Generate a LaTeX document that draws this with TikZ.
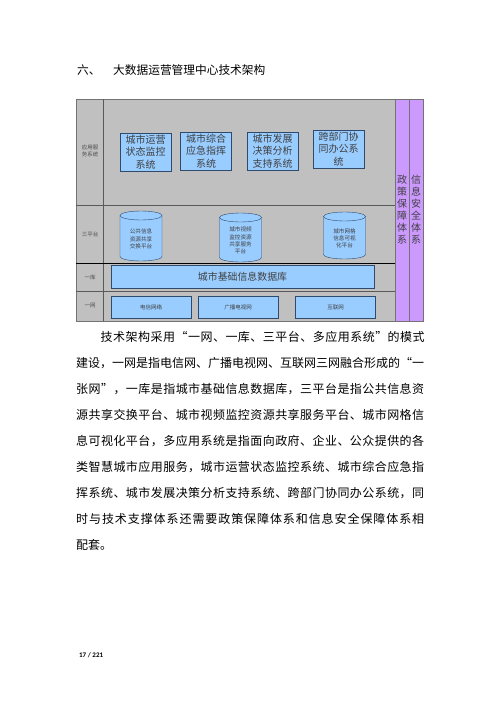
\documentclass[tikz,border=0pt]{standalone}
\usepackage{fontspec}
\usepackage{xcolor}
\newfontfamily\cjk{Noto Sans CJK SC}
\newfontfamily\pagefont{Carlito}
\definecolor{layergray}{HTML}{C0C0C0}
\definecolor{boxblue}{HTML}{99CCFF}
\definecolor{lilac}{HTML}{CC99FF}
\definecolor{boxedge}{HTML}{2F4A6A}
\def\jline#1{\expandafter\jlineB#1\relax}
\def\jlineB#1{#1\jlineA}
\def\jlineA#1{\ifx#1\relax\else\hfil#1\expandafter\jlineA\fi}

\begin{document}
\begin{tikzpicture}[x=1pt, y=-1pt,
    appbox/.style={draw=boxedge, fill=boxblue, minimum width=51, minimum height=38, inner sep=0pt,
        align=center, text=black!75, font=\cjk\fontsize{10}{12.5}\selectfont},
    storetext/.style={inner sep=0pt, align=center, text=black!75, font=\cjk\fontsize{5.6}{7.2}\selectfont},
    netbox/.style={draw=boxedge, fill=boxblue, minimum width=80, minimum height=22, inner sep=0pt,
        text=black!75, font=\cjk\fontsize{5.5}{6}\selectfont},
    rowlabel/.style={align=center, text=black!70, font=\cjk\fontsize{5.5}{6.5}\selectfont},
    sidebar/.style={fill=lilac, draw=black!55, minimum width=14, minimum height=222, inner sep=0pt,
        align=center, text=black!75, font=\cjk\fontsize{10}{12}\selectfont},
    bodyline/.style={anchor=west, inner sep=0pt, font=\cjk\fontsize{12}{14}\selectfont}]
    \useasboundingbox (0,0) rectangle (500,707);
    \node[anchor=west, inner sep=0pt, font=\cjk\fontsize{11.7}{13}\selectfont] (secnum) at (77,70) {六、};
    \node[anchor=west, inner sep=0pt, font=\cjk\fontsize{11.7}{13}\selectfont] (title) at (113,70) {大数据运营管理中心技术架构};

    \fill[layergray] (76,99) rectangle (395,321);
    \draw[black!55] (76,99) rectangle (395,321);
    \draw[black!65] (103,99) -- (103,321);
    \foreach \y in {205,291}
    {
        \draw[black!65] (76,\y) -- (395,\y);
    }
    \draw[thick] (76,263) -- (395,263);
    \node[sidebar] (policy) at (402,210) {政\\策\\保\\障\\体\\系};
    \node[sidebar] (security) at (416,210) {信\\息\\安\\全\\体\\系};

    \node[rowlabel] (appname) at (90,151) {应用服\\务系统};
    \node[rowlabel] (platname) at (90,234) {三平台};
    \node[rowlabel] (dbname) at (90,277) {一库};
    \node[rowlabel] (netname) at (90,306) {一网};

    \foreach \x/\y/\txt [count=\i] in {145.5/152/{城市运营\\状态监控\\系统}, 206/151/{城市综合\\应急指挥\\系统},
        272.5/151/{城市发展\\决策分析\\支持系统}, 338.5/149/{跨部门协\\同办公系\\统}}
    {
        \node[appbox] (app\i) at (\x,\y) {\txt};
    }
    \foreach \x/\t/\b/\txt [count=\i] in {141/211/261/{公共信息\\资源共享\\交换平台}, 240.5/213/262/{城市视频\\监控资源\\共享服务\\平台},
        344.5/212/259/{城市网格\\信息可视\\化平台}}
    {
        \filldraw[fill=boxblue, draw=boxedge] (\x-21,\t+4.5) -- (\x-21,\b-4.5)
            arc[start angle=180, end angle=360, x radius=21pt, y radius=4.5pt] -- (\x+21,\t+4.5)
            arc[start angle=0, end angle=180, x radius=21pt, y radius=4.5pt] -- cycle;
        \draw[boxedge] (\x-21,\t+4.5) arc[start angle=180, end angle=360, x radius=21pt, y radius=4.5pt];
        \node[storetext] (store\i) at (\x,{(\t+\b)/2+3}) {\txt};
    }
    \node[draw=boxedge, fill=boxblue, minimum width=263, minimum height=23, inner sep=0pt, text=black!75,
        font=\cjk\fontsize{9.9}{11}\selectfont] (basedb) at (242.5,276.5) {城市基础信息数据库};
    \foreach \x/\txt [count=\i] in {151/电信网络, 238/广播电视网, 335.5/互联网}
    {
        \node[netbox] (net\i) at (\x,307) {\txt};
    }

    \node[bodyline] (line1) at (100.5,337) {\hbox to 324pt{\jline{技术架构采用“一网、一库、三平台、多应用系统”的模式}}};
    \foreach \txt [count=\i from 2] in {建设，一网是指电信网、广播电视网、互联网三网融合形成的“一,
        张网”，一库是指城市基础信息数据库，三平台是指公共信息资,
        源共享交换平台、城市视频监控资源共享服务平台、城市网格信,
        息可视化平台，多应用系统是指面向政府、企业、公众提供的各,
        类智慧城市应用服务，城市运营状态监控系统、城市综合应急指,
        挥系统、城市发展决策分析支持系统、跨部门协同办公系统，同,
        时与技术支撑体系还需要政策保障体系和信息安全保障体系相}
    {
        \node[bodyline] (line\i) at (76,311+26*\i) {\hbox to 348pt{\jline{\txt}}};
    }
    \node[bodyline] (line9) at (76,545) {配套。};
    \node[anchor=west, inner sep=0pt, font=\pagefont\bfseries\fontsize{7}{8}\selectfont] (pageno) at (79,655) {17 / 221};
\end{tikzpicture}
\end{document}
